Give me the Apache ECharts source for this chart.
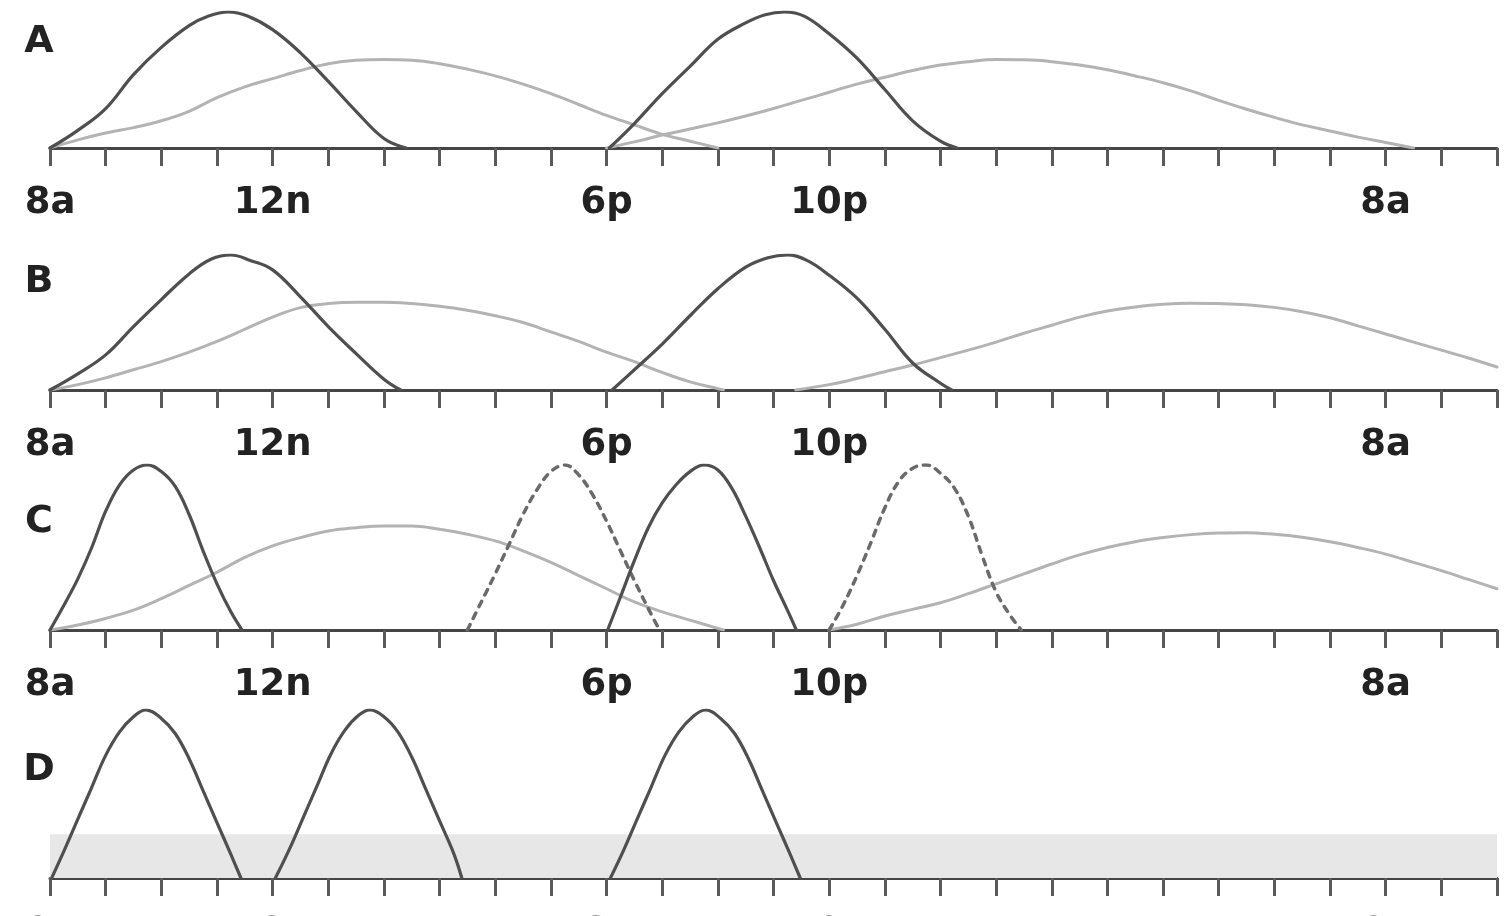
<!DOCTYPE html>
<html>
<head>
<meta charset="utf-8">
<script src="https://cdn.jsdelivr.net/npm/echarts@6/dist/echarts.min.js"></script>
<style>
  html, body { margin: 0; padding: 0; background: #ffffff; }
  #chart { width: 1505px; height: 916px; }
</style>
</head>
<body>
<div id="chart"></div>
<script>
// ---- axis / tick labels ----
const xMin = 8;      // 8a
const xMax = 34;     // 10a next day
const tickLabelValues = [8, 12, 18, 22, 32];
const tickLabelTexts  = ['8a', '12n', '6p', '10p', '8a'];
const panelLetters = ['A', 'B', 'C', 'D'];

// ---- Panel A ----
const aDark1 = [[8,0],[8.5,0.13],[9,0.29],[9.5,0.54],[10,0.74],[10.5,0.9],[10.85,0.97],[11.2,1.0],[11.55,0.97],[12,0.87],[12.5,0.70],[13,0.49],[13.5,0.27],[14,0.07],[14.4,0]];
const aDark2 = [[18.05,0],[18.5,0.18],[19,0.40],[19.5,0.60],[20,0.80],[20.5,0.92],[20.85,0.98],[21.2,1.0],[21.55,0.97],[22,0.84],[22.5,0.66],[23,0.43],[23.5,0.20],[24,0.05],[24.3,0]];
const aLight1 = [[8,0],[8.5,0.06],[9,0.11],[9.5,0.15],[10,0.20],[10.5,0.27],[11,0.37],[11.5,0.45],[12,0.51],[12.5,0.57],[13,0.62],[13.5,0.645],[14,0.65],[14.5,0.645],[15,0.62],[15.5,0.58],[16,0.53],[16.5,0.47],[17,0.40],[17.5,0.32],[18,0.24],[18.5,0.17],[19,0.10],[19.5,0.05],[20,0]];
const aLight2 = [[18,0],[18.5,0.045],[19,0.095],[19.5,0.14],[20,0.185],[20.5,0.235],[21,0.29],[21.5,0.35],[22,0.41],[22.5,0.47],[23,0.52],[23.5,0.57],[24,0.61],[24.5,0.635],[25,0.65],[25.5,0.648],[26,0.635],[26.5,0.61],[27,0.575],[27.5,0.53],[28,0.48],[28.5,0.42],[29,0.35],[29.5,0.285],[30,0.225],[30.5,0.17],[31,0.125],[31.5,0.08],[32,0.04],[32.5,0]];

// ---- Panel B ----
const bDark1 = [[8,0],[8.5,0.12],[9,0.26],[9.5,0.47],[10,0.67],[10.5,0.86],[10.9,0.97],[11.25,1.0],[11.6,0.96],[12,0.89],[12.5,0.69],[13,0.47],[13.5,0.27],[14,0.08],[14.3,0]];
const bDark2 = [[18.1,0],[18.5,0.15],[19,0.34],[19.5,0.55],[20,0.75],[20.5,0.91],[20.9,0.98],[21.25,1.0],[21.6,0.96],[22,0.85],[22.5,0.68],[23,0.45],[23.5,0.20],[24,0.05],[24.2,0]];
const bLight1 = [[8,0],[8.5,0.04],[9,0.09],[9.5,0.15],[10,0.21],[10.5,0.28],[11,0.36],[11.5,0.45],[12,0.54],[12.5,0.61],[13,0.64],[13.5,0.65],[14,0.65],[14.5,0.64],[15,0.62],[15.5,0.59],[16,0.55],[16.5,0.50],[17,0.43],[17.5,0.36],[18,0.28],[18.5,0.21],[19,0.13],[19.5,0.06],[20,0.01],[20.1,0]];
const bLight2 = [[21.4,0],[22,0.04],[22.5,0.085],[23,0.135],[23.5,0.185],[24,0.24],[24.5,0.295],[25,0.355],[25.5,0.42],[26,0.48],[26.5,0.54],[27,0.585],[27.5,0.615],[28,0.635],[28.5,0.642],[29,0.64],[29.5,0.632],[30,0.612],[30.5,0.58],[31,0.535],[31.5,0.475],[32,0.415],[32.5,0.355],[33,0.295],[33.5,0.235],[34,0.17]];

// ---- Panel C ----
const cDark1 = [[8,0],[8.25,0.15],[8.5,0.31],[8.75,0.50],[9,0.72],[9.25,0.88],[9.5,0.97],[9.75,1.0],[10,0.96],[10.25,0.87],[10.5,0.70],[10.75,0.48],[11,0.28],[11.25,0.11],[11.45,0]];
const cDark2 = [[18.02,0],[18.25,0.20],[18.5,0.42],[18.75,0.62],[19,0.77],[19.25,0.88],[19.5,0.96],[19.75,1.0],[20,0.97],[20.25,0.86],[20.5,0.69],[20.75,0.50],[21,0.30],[21.25,0.12],[21.41,0]];
const cDotted1 = [[15.5,0],[15.75,0.17],[16,0.34],[16.25,0.52],[16.5,0.70],[16.75,0.85],[17,0.96],[17.25,1.0],[17.5,0.94],[17.75,0.82],[18,0.66],[18.25,0.48],[18.5,0.30],[18.75,0.13],[18.95,0]];
const cDotted2 = [[22,0],[22.25,0.15],[22.5,0.33],[22.75,0.53],[23,0.74],[23.25,0.90],[23.5,0.98],[23.75,1.0],[24,0.95],[24.25,0.86],[24.5,0.69],[24.75,0.45],[25,0.23],[25.25,0.09],[25.45,0]];
const cLight1 = [[8,0],[8.5,0.03],[9,0.07],[9.5,0.12],[10,0.19],[10.5,0.27],[11,0.35],[11.5,0.44],[12,0.51],[12.5,0.56],[13,0.60],[13.5,0.62],[14,0.63],[14.5,0.63],[15,0.61],[15.5,0.58],[16,0.54],[16.5,0.48],[17,0.41],[17.5,0.33],[18,0.25],[18.5,0.17],[19,0.11],[19.5,0.06],[20,0.01],[20.1,0]];
const cLight2 = [[22,0],[22.5,0.035],[23,0.085],[23.5,0.125],[24,0.165],[24.5,0.22],[25,0.28],[25.5,0.34],[26,0.40],[26.5,0.455],[27,0.50],[27.5,0.535],[28,0.56],[28.5,0.578],[29,0.588],[29.5,0.59],[30,0.58],[30.5,0.562],[31,0.535],[31.5,0.50],[32,0.46],[32.5,0.41],[33,0.36],[33.5,0.305],[34,0.25]];

// ---- Panel D ----
const dPeak1 = [[8.03,0],[8.25,0.16],[8.5,0.35],[8.75,0.54],[9,0.73],[9.25,0.87],[9.5,0.96],[9.72,1.0],[10,0.95],[10.25,0.86],[10.5,0.71],[10.75,0.52],[11,0.33],[11.25,0.14],[11.43,0]];
const dPeak2 = [[12.05,0],[12.3,0.17],[12.55,0.36],[12.8,0.55],[13.05,0.74],[13.3,0.88],[13.55,0.97],[13.75,1.0],[14,0.96],[14.25,0.87],[14.5,0.72],[14.75,0.53],[15,0.34],[15.25,0.15],[15.4,0]];
const dPeak3 = [[18.07,0],[18.3,0.16],[18.55,0.35],[18.8,0.54],[19.05,0.73],[19.3,0.87],[19.55,0.96],[19.78,1.0],[20.05,0.95],[20.3,0.86],[20.55,0.71],[20.8,0.52],[21.05,0.33],[21.3,0.14],[21.48,0]];
const dBand = [8, 34, 0.26];   // [x from, x to, level]

// ---- layout ----
const panelRects = [
  { top: 12,  height: 136 },
  { top: 255, height: 135 },
  { top: 465, height: 165 },
  { top: 710, height: 168 }
];
const letterY = [42, 282, 522, 770];

const DARK = '#4f4f4f';
const LIGHT = '#b3b3b3';
const DOT = '#6a6a6a';

const labelMap = {};
tickLabelValues.forEach((v, i) => { labelMap[v] = tickLabelTexts[i]; });

const grids = panelRects.map(r => ({
  left: 50, right: 8, top: r.top, height: r.height,
  containLabel: false, outerBoundsMode: 'none'
}));
const xAxes = panelRects.map((r, i) => ({
  type: 'value', gridIndex: i, min: xMin, max: xMax, interval: 1,
  axisLine: { show: true, onZero: false, lineStyle: { color: '#454545', width: 3 } },
  axisTick: { show: true, length: 18, lineStyle: { color: '#5a5a5a', width: 3 } },
  splitLine: { show: false },
  axisLabel: {
    show: true, margin: 37, color: '#222',
    fontFamily: 'DejaVu Sans', fontWeight: 'bold', fontSize: 37,
    formatter: v => labelMap[v] || ''
  }
}));
const yAxes = panelRects.map((r, i) => ({ type: 'value', gridIndex: i, min: 0, max: 1, show: false }));

function line(data, gi, color, width, type, z) {
  return {
    type: 'line', xAxisIndex: gi, yAxisIndex: gi, data: data,
    symbol: 'none', smooth: 0.4, silent: true, z: z,
    lineStyle: { color: color, width: width, type: type || 'solid', cap: 'round', join: 'round' }
  };
}

const series = [
  line(aLight1, 0, LIGHT, 3, null, 2), line(aLight2, 0, LIGHT, 3, null, 2),
  line(aDark1, 0, DARK, 3.2, null, 3), line(aDark2, 0, DARK, 3.2, null, 3),
  line(bLight1, 1, LIGHT, 3, null, 2), line(bLight2, 1, LIGHT, 3, null, 2),
  line(bDark1, 1, DARK, 3.2, null, 3), line(bDark2, 1, DARK, 3.2, null, 3),
  line(cLight1, 2, LIGHT, 3, null, 2), line(cLight2, 2, LIGHT, 3, null, 2),
  line(cDotted1, 2, DOT, 3.5, [6, 7], 3), line(cDotted2, 2, DOT, 3.5, [6, 7], 3),
  line(cDark1, 2, DARK, 3.2, null, 3), line(cDark2, 2, DARK, 3.2, null, 3),
  Object.assign(line(dPeak1, 3, DARK, 3.2, null, 3), {
    markArea: {
      silent: true,
      itemStyle: { color: '#e7e7e7' },
      data: [[{ xAxis: dBand[0], yAxis: 0 }, { xAxis: dBand[1], yAxis: dBand[2] }]]
    }
  }),
  line(dPeak2, 3, DARK, 3.2, null, 3),
  line(dPeak3, 3, DARK, 3.2, null, 3)
];

const graphics = panelLetters.map((t, i) => ({
  type: 'text', x: 39, y: letterY[i], silent: true,
  style: { text: t, fill: '#222', font: 'bold 38px "DejaVu Sans"', align: 'center', verticalAlign: 'middle' }
}));

const chart = echarts.init(document.getElementById('chart'), null, { renderer: 'canvas' });
chart.setOption({
  animation: false,
  backgroundColor: '#ffffff',
  grid: grids,
  xAxis: xAxes,
  yAxis: yAxes,
  series: series,
  graphic: graphics
});
</script>
</body>
</html>
